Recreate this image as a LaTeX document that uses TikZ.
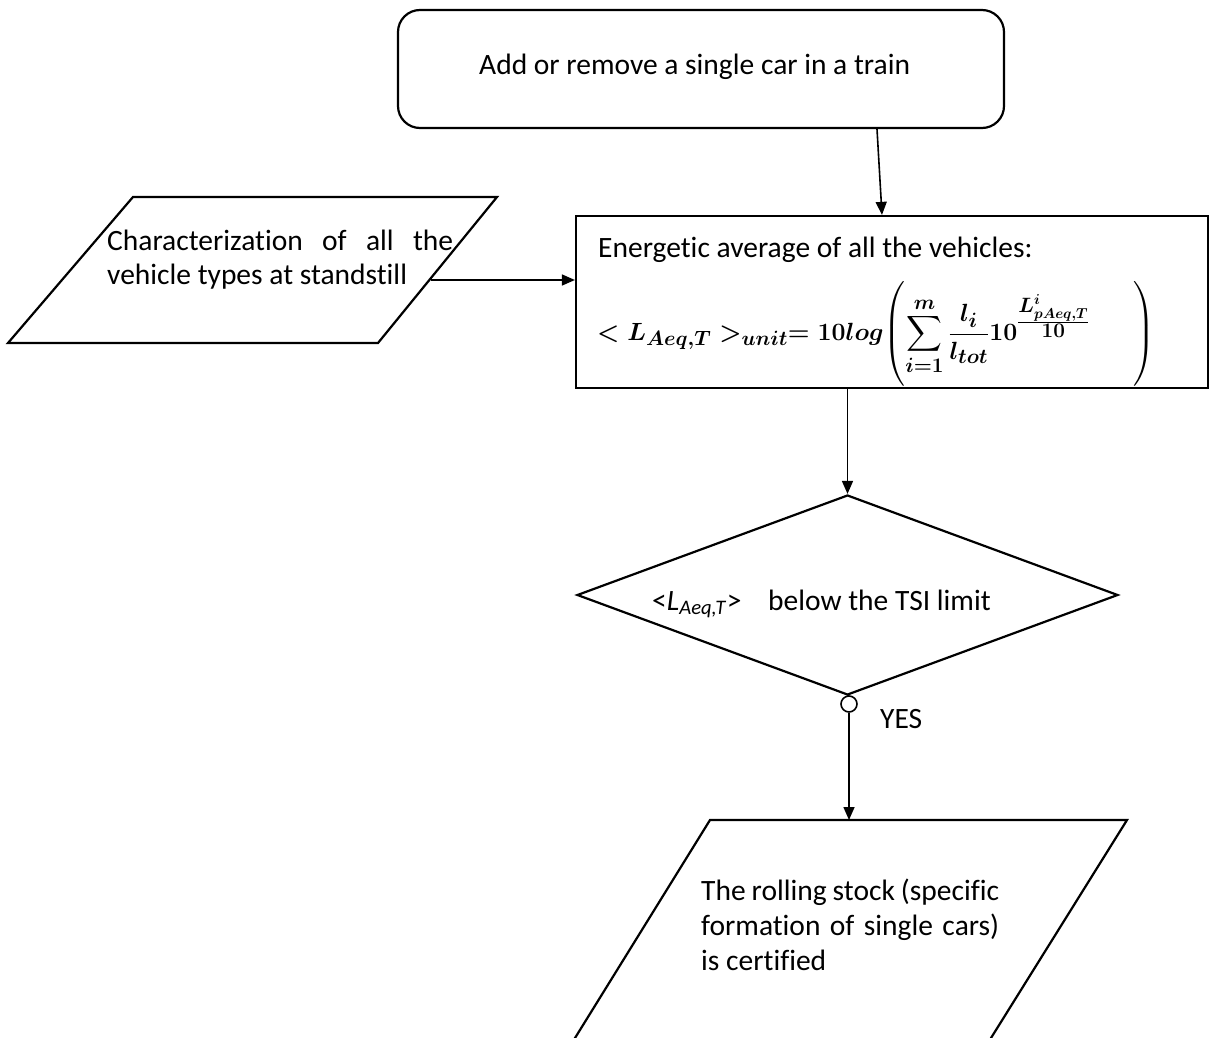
\documentclass[tikz,border=0pt]{standalone}
\usepackage{amsmath}
\usepackage{fontspec}
\setmainfont{Carlito}[Ligatures=NoCommon]
\usetikzlibrary{shapes.geometric,arrows.meta,calc}
\newsavebox{\formulabox}
\newsavebox{\limitbox}

\begin{document}
\sbox{\formulabox}{\fontsize{29}{34}\selectfont\boldmath$\displaystyle <L_{Aeq,T}>_{unit}= 10log\!\left(\vrule height 1.85em depth 1.45em width 0pt\sum_{i=1}^{m}\frac{l_i}{l_{tot}}10^{\frac{\scriptstyle L^{i}_{pAeq,T}}{\scriptstyle 10}}\hspace{44pt}\right)$}
\sbox{\limitbox}{\fontsize{29.5}{35}\selectfont\hbox to 116pt{\textless\textit{L}\textsubscript{\textit{Aeq,T}}\textgreater\hfill}below the TSI limit}
\begin{tikzpicture}[x=1pt,y=-1pt,
  shape line/.style={draw, line width=2.2pt},
  arr/.style={line width=1.6pt, -{Triangle[length=13pt,width=11pt]}},
  txt/.style={inner sep=0pt, font=\fontsize{29.5}{35}\selectfont},
]
\useasboundingbox (0,0) rectangle (1211,1038);
\clip (0,0) rectangle (1211,1038);

% start: rounded box
\node[shape line, rounded corners=22pt, minimum width=606pt, minimum height=118pt] (start) at (701,69) {};
\node[txt, anchor=base west] (startt) at (479,75) {Add or remove a single car in a train};

% energetic average box
\node[shape line, minimum width=632pt, minimum height=172pt] (avg) at (892,302) {};
\node[txt, anchor=base west] (avgt) at (598,257) {Energetic average of all the vehicles:};
\node[inner sep=0pt, anchor=west] (form) at (597,334) {\usebox{\formulabox}};

% input parallelogram (left)
\draw[line width=2.2pt] (133,197) -- (497,197) -- (378,343) -- (8,343) -- cycle;
\node[txt, anchor=base west] (chart) at (107,250)
  {\vtop{\baselineskip=34pt
   \hbox to 346pt{Characterization\hfill of\hfill all\hfill the}
   \hbox{vehicle types at standstill}}};
\coordinate (charout) at (431,280);

% decision
\node[shape line, diamond, minimum width=541pt, minimum height=200pt, inner sep=0pt] (dec) at (847.5,595) {};
\node[inner sep=0pt, anchor=base west] (dect) at (652,610) {\usebox{\limitbox}};
\node[circle, draw, line width=1.6pt, minimum size=16pt, inner sep=0pt] (yes) at (849,704) {};
\node[txt, anchor=base west] (yest) at (880,728) {YES};

% output parallelogram (bottom)
\draw[line width=2.2pt] (710,820) -- (1127,820) -- (991,1038) -- (989,1045) -- (571,1045) -- (575,1038) -- cycle;
\coordinate (outtop) at (849,820);
\node[txt, anchor=base west] (outt) at (701,900)
  {\vtop{\baselineskip=35pt
   \hbox to 298pt{The rolling stock (specific\hfill}
   \hbox to 298pt{formation\hfill of\hfill single\hfill cars)}
   \hbox{is certified}}};

% connectors
\draw[arr] ([xshift=176pt]start.south) -- ([xshift=-10pt]avg.north);
\draw[arr] (charout) -- (charout -| avg.west);
\draw[arr] (avg.south -| dec.north) -- (dec.north);
\draw[line width=1.6pt] (dec.south) -- (yes.north);
\draw[arr] (yes.south) -- (outtop);
\end{tikzpicture}
\end{document}
